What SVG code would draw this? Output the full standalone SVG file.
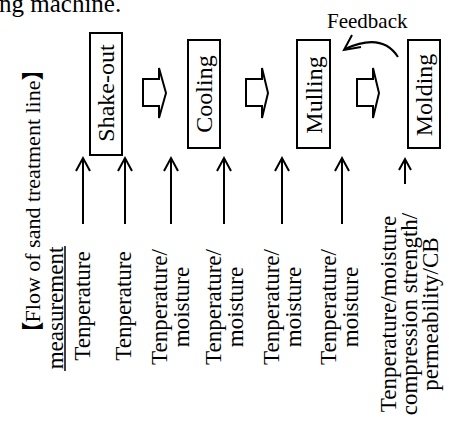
<svg xmlns="http://www.w3.org/2000/svg" width="449" height="426" viewBox="0 0 449 426">
<style>
text{font-family:"Liberation Serif","Noto Serif CJK JP","Noto Sans CJK JP",serif;fill:#000}
.lbl{font-size:23px;text-anchor:middle}
.box{font-size:24px;text-anchor:middle}
.br{font-family:"Noto Sans CJK JP",sans-serif;font-weight:bold;font-size:22px}
.node rect{fill:#fff;stroke:#000;stroke-width:2}
.con line,.con path,.con polyline{fill:none;stroke:#000;stroke-width:2}
.blk{fill:#fff;stroke:#000;stroke-width:2;stroke-linejoin:miter}
</style>
<rect width="449" height="426" fill="#fff"/>
<text x="-1" y="12" style="font-size:25px">ng machine.</text>

<g id="header">
<text class="lbl" transform="translate(40,201) rotate(-90)" style="font-size:22px"><tspan class="br">【</tspan><tspan dx="-1">Flow of sand treatment line</tspan><tspan class="br" dx="0">】</tspan></text>
<text class="lbl" transform="translate(63,308) rotate(-90)">measurement</text>
<line x1="65" y1="246" x2="65" y2="371" stroke="#000" stroke-width="1.5"/>
</g>

<g id="shakeout" class="node"><rect x="90" y="33" width="32" height="122"/><text class="box" transform="translate(114,93) rotate(-90)">Shake-out</text></g>
<g id="cooling" class="node"><rect x="188" y="40" width="32" height="108"/><text class="box" transform="translate(212,94) rotate(-90)">Cooling</text></g>
<g id="mulling" class="node"><rect x="297" y="40" width="33" height="108"/><text class="box" transform="translate(322,95) rotate(-90)">Mulling</text></g>
<g id="molding" class="node"><rect x="408" y="40" width="32" height="108"/><text class="box" transform="translate(432,95) rotate(-90)">Molding</text></g>

<g id="m1"><text class="lbl" transform="translate(90,306) rotate(-90)">Tenperature</text></g>
<g id="m2"><text class="lbl" transform="translate(131,306) rotate(-90)">Tenperature</text></g>
<g id="m3"><text class="lbl" transform="translate(167,307) rotate(-90)"><tspan x="0">Tenperature/</tspan><tspan x="0" dy="22">moisture</tspan></text></g>
<g id="m4"><text class="lbl" transform="translate(221,307) rotate(-90)"><tspan x="0">Tenperature/</tspan><tspan x="0" dy="22">moisture</tspan></text></g>
<g id="m5"><text class="lbl" transform="translate(279,307) rotate(-90)"><tspan x="0">Tenperature/</tspan><tspan x="0" dy="22">moisture</tspan></text></g>
<g id="m6"><text class="lbl" transform="translate(336,307) rotate(-90)"><tspan x="0">Tenperature/</tspan><tspan x="0" dy="22">moisture</tspan></text></g>
<g id="m7"><text class="lbl" transform="translate(396,314) rotate(-90)"><tspan x="0">Tenperature/moisture</tspan><tspan x="0" dy="21">compression strength/</tspan><tspan x="0" dy="21">permeability/CB</tspan></text></g>

<g id="feedback"><text x="327" y="28" style="font-size:21px">Feedback</text></g>

<g id="connectors" class="con">
<line x1="83" y1="224" x2="83" y2="159"/><polyline points="76,171 83,158 90,171"/>
<line x1="125" y1="224" x2="125" y2="159"/><polyline points="118,171 125,158 132,171"/>
<line x1="171" y1="224" x2="171" y2="159"/><polyline points="164,171 171,158 178,171"/>
<line x1="224" y1="224" x2="224" y2="159"/><polyline points="217,171 224,158 231,171"/>
<line x1="282" y1="224" x2="282" y2="159"/><polyline points="275,171 282,158 289,171"/>
<line x1="342" y1="224" x2="342" y2="159"/><polyline points="335,171 342,158 349,171"/>
<line x1="405" y1="184" x2="405" y2="160"/><polyline points="399,170 405,159 411,170"/>
<path d="M398 57 Q382 32 345 49"/><polyline points="352,35 344,50 361,47"/>
<path class="blk" d="M143 79 H159 V68 L166 93 L159 118 V106 H143 Z"/>
<path class="blk" d="M246 79 H262 V68 L268 93 L262 118 V106 H246 Z"/>
<path class="blk" d="M357 79 H373 V68 L379 93 L373 118 V106 H357 Z"/>
</g>
</svg>
